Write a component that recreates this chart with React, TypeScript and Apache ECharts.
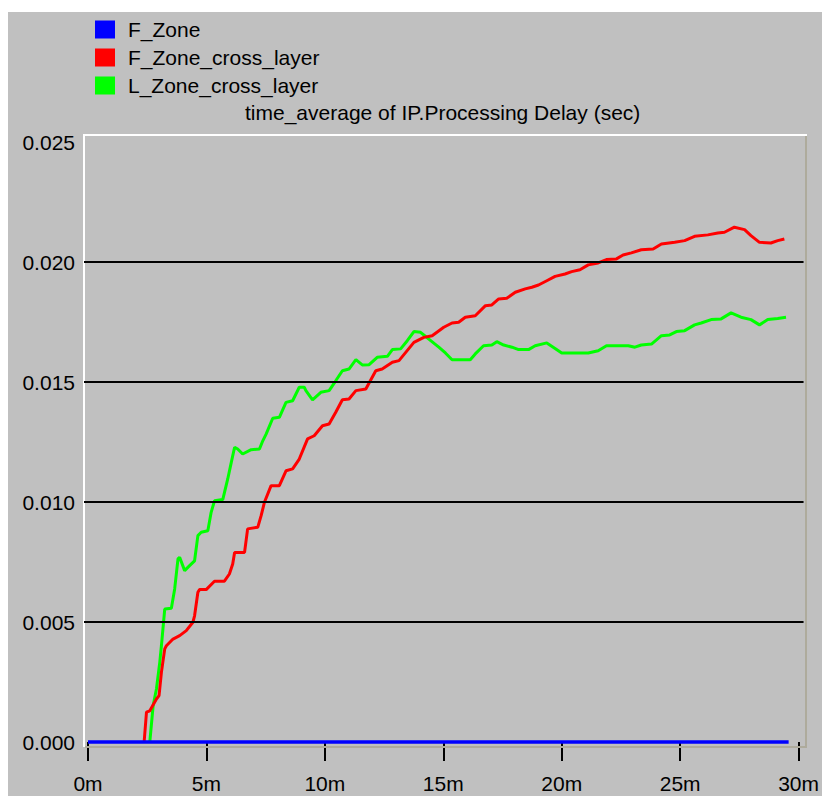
import React, { useEffect, useRef } from "react";
import * as echarts from "echarts";

// Time axis in minutes, processing delay in seconds.
const X_TICKS = [0, 5, 10, 15, 20, 25, 30];
const Y_TICKS = [0, 0.005, 0.01, 0.015, 0.02, 0.025];
const GRID_VALUES = [0.005, 0.01, 0.015, 0.02];

const SERIES_NAMES = ["F_Zone", "F_Zone_cross_layer", "L_Zone_cross_layer"];
const SERIES_COLORS = ["#0000ff", "#ff0000", "#00ff00"];

const F_ZONE: [number, number][] = [
  [0, 0],
  [29.58, 0],
];

const F_ZONE_CROSS_LAYER: [number, number][] = [
  [2.37, 0], [2.47, 0.00124], [2.61, 0.0013], [2.89, 0.00179], [3.0, 0.00193],
  [3.1, 0.0029], [3.24, 0.00388], [3.31, 0.00401], [3.59, 0.00429], [3.87, 0.00443],
  [4.15, 0.00464], [4.43, 0.00499], [4.5, 0.00526], [4.64, 0.00624], [4.71, 0.00635],
  [4.99, 0.00635], [5.34, 0.0067], [5.76, 0.0067], [5.97, 0.007], [6.11, 0.00742],
  [6.19, 0.0079], [6.61, 0.0079], [6.74, 0.00888], [7.17, 0.00895], [7.31, 0.00943],
  [7.45, 0.00999], [7.73, 0.01068], [8.08, 0.01068], [8.36, 0.0113], [8.64, 0.01138],
  [8.92, 0.01179], [9.27, 0.01263], [9.55, 0.01276], [9.9, 0.01318], [10.18, 0.01325],
  [10.46, 0.01374], [10.74, 0.01426], [11.02, 0.01429], [11.31, 0.01464], [11.73, 0.01471],
  [12.15, 0.01547], [12.42, 0.01554], [12.85, 0.01582], [13.13, 0.01589], [13.76, 0.01665],
  [14.18, 0.01686], [14.53, 0.01693], [15.02, 0.01728], [15.37, 0.01746], [15.65, 0.01749],
  [15.93, 0.0177], [16.35, 0.01776], [16.78, 0.01818], [17.05, 0.01821], [17.34, 0.01846],
  [17.68, 0.01849], [18.04, 0.01874], [18.46, 0.01888], [18.74, 0.01895], [19.02, 0.01904],
  [19.37, 0.01922], [19.72, 0.0194], [20.14, 0.0195], [20.42, 0.0196], [20.77, 0.01968],
  [21.12, 0.01988], [21.54, 0.01996], [21.89, 0.0201], [22.31, 0.02013], [22.59, 0.02029],
  [22.94, 0.02038], [23.36, 0.02051], [23.86, 0.02054], [24.21, 0.02075], [24.77, 0.02082],
  [25.19, 0.02089], [25.61, 0.02107], [26.17, 0.02113], [26.59, 0.02121], [26.87, 0.02124],
  [27.29, 0.02145], [27.72, 0.02135], [27.99, 0.0211], [28.35, 0.02082], [28.83, 0.02079],
  [29.12, 0.02089], [29.4, 0.02096],
];

const L_ZONE_CROSS_LAYER: [number, number][] = [
  [2.61, 0], [2.75, 0.00151], [2.89, 0.00221], [3.03, 0.00332], [3.1, 0.00401],
  [3.24, 0.00554], [3.52, 0.00557], [3.66, 0.00638], [3.8, 0.00763], [3.87, 0.0077],
  [4.08, 0.00714], [4.29, 0.00735], [4.5, 0.00755], [4.64, 0.0086], [4.78, 0.00874],
  [5.06, 0.0088], [5.2, 0.00957], [5.34, 0.01005], [5.69, 0.0101], [5.9, 0.01096],
  [6.05, 0.01165], [6.19, 0.01228], [6.32, 0.01221], [6.53, 0.012], [6.89, 0.01218],
  [7.24, 0.01221], [7.38, 0.01255], [7.52, 0.01283], [7.8, 0.01349], [8.08, 0.01353],
  [8.36, 0.01415], [8.64, 0.01422], [8.92, 0.01478], [9.13, 0.01478], [9.2, 0.01464],
  [9.48, 0.01426], [9.83, 0.01457], [10.18, 0.01464], [10.46, 0.01505], [10.74, 0.01547],
  [11.02, 0.01554], [11.31, 0.01593], [11.58, 0.01571], [11.87, 0.01572], [12.21, 0.01603],
  [12.64, 0.01607], [12.85, 0.01635], [13.2, 0.01638], [13.48, 0.01672], [13.76, 0.0171],
  [14.04, 0.01707], [14.39, 0.01679], [14.81, 0.01645], [15.09, 0.01621], [15.37, 0.01593],
  [16.14, 0.01593], [16.35, 0.01617], [16.7, 0.01651], [17.05, 0.01654], [17.26, 0.01668],
  [17.55, 0.01654], [17.9, 0.01645], [18.18, 0.01635], [18.6, 0.01635], [18.88, 0.01651],
  [19.37, 0.01663], [19.72, 0.0164], [20.0, 0.01621], [20.56, 0.01621], [21.12, 0.01621],
  [21.54, 0.0163], [21.89, 0.01651], [22.38, 0.01651], [22.81, 0.01651], [23.09, 0.01645],
  [23.36, 0.01654], [23.79, 0.01658], [24.21, 0.01693], [24.56, 0.01696], [24.84, 0.0171],
  [25.19, 0.01714], [25.61, 0.01738], [25.89, 0.01746], [26.31, 0.0176], [26.73, 0.01763],
  [27.15, 0.01788], [27.57, 0.0177], [27.99, 0.0176], [28.35, 0.01738], [28.7, 0.0176],
  [29.12, 0.01765], [29.47, 0.0177],
];

const TITLE = "time_average of IP.Processing Delay (sec)";

const FONT = "'Liberation Sans', Arial, sans-serif";
const BG = "#c0c0c0";
const CHART_W = 814;
const CHART_H = 784;

// Plot frame (chart pixels)
const GRID_LEFT = 76;
const GRID_TOP = 123;
const GRID_W = 722;
const GRID_H = 612;

// Axis scale: tick 0m sits 4px inside the left edge, 30m sits 5px inside the right edge.
const PX_PER_MIN = 713 / 30;
const X_MIN = -4 / PX_PER_MIN;
const X_MAX = 30 + 5 / PX_PER_MIN;
const PX_PER_SEC = 24000;
const Y_MIN = -5 / PX_PER_SEC;
const Y_MAX = 0.025 + 7 / PX_PER_SEC;

export default function App() {
  const ref = useRef<HTMLDivElement>(null);

  useEffect(() => {
    if (!ref.current) return;
    const chart = echarts.init(ref.current, undefined, { renderer: "svg" });
    const seriesData = [F_ZONE, F_ZONE_CROSS_LAYER, L_ZONE_CROSS_LAYER];
    const zOrder = [4, 3, 2];

    const series: any[] = SERIES_NAMES.map((name, i) => ({
      name,
      type: "line",
      data: seriesData[i],
      showSymbol: false,
      symbol: "none",
      color: SERIES_COLORS[i],
      lineStyle: { color: SERIES_COLORS[i], width: i === 0 ? 3.5 : 3 },
      itemStyle: { color: SERIES_COLORS[i] },
      silent: true,
      z: zOrder[i],
    }));

    // Horizontal grid lines, drawn over the curves, spanning the whole frame.
    series[1].markLine = {
      silent: true,
      symbol: ["none", "none"],
      label: { show: false },
      lineStyle: { color: "#000", width: 2, type: "solid" },
      data: GRID_VALUES.map((v) => [
        { coord: [X_MIN, v] },
        { coord: [X_MAX, v] },
      ]),
      z: 10,
    };

    chart.setOption({
      animation: false,
      backgroundColor: BG,
      textStyle: { fontFamily: FONT },
      title: {
        text: TITLE,
        left: 237,
        top: 90,
        padding: 0,
        textStyle: { fontFamily: FONT, fontSize: 21, fontWeight: "normal", color: "#000" },
      },
      legend: {
        data: SERIES_NAMES,
        orient: "vertical",
        left: 87,
        top: 7,
        padding: 0,
        itemWidth: 20,
        itemHeight: 18,
        itemGap: 7,
        icon: "rect",
        selectedMode: false,
        textStyle: {
          fontFamily: FONT,
          fontSize: 21,
          color: "#000",
          padding: [0, 0, 0, 8],
        },
      },
      grid: { left: GRID_LEFT, top: GRID_TOP, width: GRID_W, height: GRID_H, containLabel: false },
      xAxis: {
        type: "value",
        min: X_MIN,
        max: X_MAX,
        offset: 3,
        axisLine: { show: false },
        splitLine: { show: false },
        axisTick: {
          show: true,
          length: 19,
          customValues: X_TICKS,
          lineStyle: { color: "#000", width: 2 },
        },
        axisLabel: {
          customValues: X_TICKS,
          margin: 23,
          fontFamily: FONT,
          fontSize: 21,
          color: "#000",
          formatter: (v: number) => `${Math.round(v)}m`,
        },
      },
      yAxis: {
        type: "value",
        min: Y_MIN,
        max: Y_MAX,
        axisLine: { show: false },
        axisTick: { show: false },
        splitLine: { show: false },
        axisLabel: {
          customValues: Y_TICKS,
          margin: 9,
          fontFamily: FONT,
          fontSize: 21,
          color: "#000",
          formatter: (v: number) => v.toFixed(3),
        },
      },
      graphic: [
        { type: "rect", z: 1, shape: { x: GRID_LEFT - 1, y: GRID_TOP - 1, width: GRID_W + 2, height: 2 }, style: { fill: "#ffffff" } },
        { type: "rect", z: 1, shape: { x: GRID_LEFT - 1, y: GRID_TOP - 1, width: 2, height: GRID_H + 1 }, style: { fill: "#ffffff" } },
        { type: "rect", z: 1, shape: { x: GRID_LEFT + GRID_W - 1, y: GRID_TOP + 1, width: 2, height: GRID_H }, style: { fill: "#aeab9c" } },
        { type: "rect", z: 1, shape: { x: GRID_LEFT + 1, y: GRID_TOP + GRID_H - 1, width: GRID_W, height: 2 }, style: { fill: "#aeab9c" } },
      ],
      series,
    });

    return () => chart.dispose();
  }, []);

  return (
    <div
      ref={ref}
      style={{
        position: "absolute",
        left: 8,
        top: 12,
        width: CHART_W,
        height: CHART_H,
        background: BG,
      }}
    />
  );
}
